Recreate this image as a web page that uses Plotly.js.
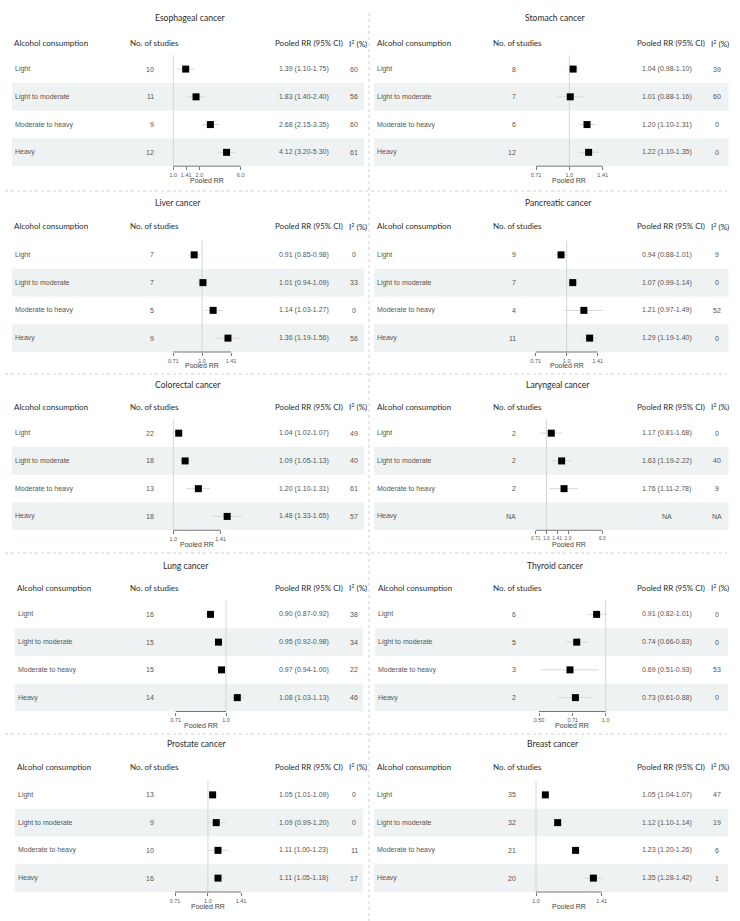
<!DOCTYPE html>
<html><head><meta charset="utf-8">
<script src="https://cdn.plot.ly/plotly-3.0.1.min.js"></script>
<style>html,body{margin:0;padding:0;background:#fff;}#chart{width:740px;height:921px;}</style>
</head><body><div id="chart"></div>
<script>
// ---------- data ----------
const cancers = ['Esophageal cancer','Stomach cancer','Liver cancer','Pancreatic cancer','Colorectal cancer',
  'Laryngeal cancer','Lung cancer','Thyroid cancer','Prostate cancer','Breast cancer'];
const levels = ['Light','Light to moderate','Moderate to heavy','Heavy'];
const nStudies = [[10,11,9,12],[8,7,6,12],[7,7,5,9],[9,7,4,11],[22,18,13,18],
  [2,2,2,null],[16,15,15,14],[6,5,3,2],[13,9,10,16],[35,32,21,20]];
const pooledRR = [[1.39,1.83,2.68,4.12],[1.04,1.01,1.20,1.22],[0.91,1.01,1.14,1.36],[0.94,1.07,1.21,1.29],
  [1.04,1.09,1.20,1.48],[1.17,1.63,1.76,null],[0.90,0.95,0.97,1.08],[0.91,0.74,0.69,0.73],
  [1.05,1.09,1.11,1.11],[1.05,1.12,1.23,1.35]];
const ciLow = [[1.10,1.40,2.15,3.20],[0.98,0.88,1.10,1.10],[0.85,0.94,1.03,1.19],[0.88,0.99,0.97,1.19],
  [1.02,1.05,1.10,1.33],[0.81,1.19,1.11,null],[0.87,0.92,0.94,1.03],[0.82,0.66,0.51,0.61],
  [1.01,0.99,1.00,1.05],[1.04,1.10,1.20,1.28]];
const ciHigh = [[1.75,2.40,3.35,5.30],[1.10,1.16,1.31,1.35],[0.98,1.09,1.27,1.56],[1.01,1.14,1.49,1.40],
  [1.07,1.13,1.31,1.65],[1.68,2.22,2.78,null],[0.92,0.98,1.00,1.13],[1.01,0.83,0.93,0.88],
  [1.09,1.20,1.23,1.18],[1.07,1.14,1.26,1.42]];
const iSquared = [[60,56,60,61],[39,60,0,0],[0,33,0,56],[9,0,52,0],[49,40,61,57],
  [0,40,9,null],[38,34,22,46],[0,0,53,0],[0,0,11,17],[47,19,6,1]];
const tickVals = [[1.0,1.41,2.0,6.0],[0.71,1.0,1.41],[0.71,1.0,1.41],[0.71,1.0,1.41],[1.0,1.41],
  [0.71,1.0,1.41,2.0,6.0],[0.71,1.0],[0.50,0.71,1.0],[0.71,1.0,1.41],[1.0,1.41]];
const tickLabels = [['1.0','1.41','2.0','6.0'],['0.71','1.0','1.41'],['0.71','1.0','1.41'],['0.71','1.0','1.41'],['1.0','1.41'],
  ['0.71','1.0','1.41','2.0','6.0'],['0.71','1.0'],['0.50','0.71','1.0'],['0.71','1.0','1.41'],['1.0','1.41']];
const headers = ['Alcohol consumption','No. of studies','Pooled RR (95% CI)','I<sup>2</sup> (%)'];
const axisTitle = 'Pooled RR';
const nullRR = 1.0;

// ---------- geometry (pixels) ----------
const W = 740, H = 921;
const px = x => x / W, py = y => 1 - y / H;
const ROW_H = 27.75;
const rowGeom = [
  {title:18,    header:43,    top:55.2},
  {title:203,   header:226,   top:241},
  {title:385,   header:406.7, top:419.3},
  {title:565.7, header:587.7, top:600.5},
  {title:744.3, header:766.7, top:781}
];
const titleX = [153,522.7,152.7,522.7,153.3,524.3,161,525,165,525];
const bandX = [[12,364],[374,728.5],[12,364],[374,728.5],[12,364],[374,728.5],[15,363],[375,728],[15,363],[374,728]];
const tickPx = [[173.3,240.7],[536,602.7],[173.3,231],[535.7,597.7],[173.3,220.5],[535.7,602.3],
  [175.7,226],[539,605.7],[175,241],[536,601.7]];
const tickFontSize = [5.5,5.5,5.5,5.5,5.5,4.9,5.5,5.5,5.5,5.5];
const forestDom = [[150,265],[515,630]];
const colX = [
  {label:12,  studies:128, studiesNum:155.5, rrHead:272.7, rrText:303.7, i2Head:346.7, i2Text:354},
  {label:375, studies:491, studiesNum:518,   rrHead:635,   rrText:666.7, i2Head:709,   i2Text:716.5}
];
const sepY = [191, 374, 553, 734];

const HEAD_FONT = {family:'Lato, "Open Sans", sans-serif', size:8, color:'#2b2b2b'};
const TITLE_FONT = {family:'Lato, "Open Sans", sans-serif', size:8.6, color:'#2b2b2b'};
const ROW_FONT = {family:'"Liberation Sans", Arial, sans-serif', size:7, color:'#555555'};
const BAND_COLOR = '#eef2f3';

const traces = [];
const annotations = [];
const shapes = [];
const layout = {
  width: W, height: H, margin:{l:0,r:0,t:0,b:0},
  paper_bgcolor:'#fff', plot_bgcolor:'rgba(0,0,0,0)',
  showlegend:false, hovermode:false
};

function fmt(v){ return v === null ? 'NA' : String(v); }
function fmtRR(p,i){
  if (pooledRR[p][i] === null) return 'NA';
  return pooledRR[p][i].toFixed(2) + ' (' + ciLow[p][i].toFixed(2) + '-' + ciHigh[p][i].toFixed(2) + ')';
}

cancers.forEach((name, p) => {
  const col = p % 2, row = Math.floor(p / 2);
  const g = rowGeom[row];
  const s = p === 0 ? '' : String(p + 1);
  const xa = 'x' + s, ya = 'y' + s;
  const top = g.top, bottom = g.top + 4 * ROW_H;
  const cx = colX[col];

  // axis ranges from tick pixel positions
  const tv = tickVals[p];
  const tmin = tv[0], tmax = tv[tv.length - 1];
  const [pMin, pMax] = tickPx[p];
  const [dL, dR] = forestDom[col];
  const k = (Math.log10(tmax) - Math.log10(tmin)) / (pMax - pMin);
  const r0 = Math.log10(tmin) - (pMin - dL) * k;
  const r1 = Math.log10(tmax) + (dR - pMax) * k;

  layout['xaxis' + s] = {
    type:'log', domain:[px(dL), px(dR)], range:[r0, r1], anchor: ya,
    tickmode:'array', tickvals: tv, ticktext: tickLabels[p], tickangle: 0,
    ticks:'outside', ticklen:3, tickwidth:1, tickcolor:'#777',
    tickfont:{family:'"Liberation Sans", Arial, sans-serif', size:tickFontSize[p], color:'#555'},
    showline:false, showgrid:false, zeroline:false, fixedrange:true
  };
  layout['yaxis' + s] = {
    domain:[py(bottom), py(top)], range:[3.5, -0.5], anchor: xa,
    showticklabels:false, ticks:'', showline:false, showgrid:false, zeroline:false, fixedrange:true
  };

  // shaded rows
  [1, 3].forEach(i => {
    shapes.push({type:'rect', xref:'paper', yref: ya, x0: px(bandX[p][0]), x1: px(bandX[p][1]),
      y0: i - 0.5, y1: i + 0.5, fillcolor: BAND_COLOR, line:{width:0}, layer:'below'});
  });
  // reference line at RR = 1
  shapes.push({type:'line', xref: xa, yref: ya + ' domain', x0: nullRR, x1: nullRR, y0: 0, y1: 1,
    line:{color:'#d2d6d8', width:1}, layer:'below'});
  // axis baseline between first and last tick
  shapes.push({type:'line', xref: xa, yref: ya + ' domain', x0: tmin, x1: tmax,
    y0: 0, y1: 0, line:{color:'#777', width:1}});

  // CI lines
  const cx_ = [], cy_ = [];
  levels.forEach((lv, i) => {
    if (ciLow[p][i] !== null) { cx_.push(ciLow[p][i], ciHigh[p][i], null); cy_.push(i, i, null); }
  });
  traces.push({type:'scatter', mode:'lines', x: cx_, y: cy_, xaxis: xa, yaxis: ya,
    line:{color:'#d8d8d8', width:1}, hoverinfo:'skip'});
  // point estimates
  traces.push({type:'scatter', mode:'markers', x: pooledRR[p], y: levels.map((lv, i) => i),
    xaxis: xa, yaxis: ya, cliponaxis:false,
    marker:{symbol:'square', size:7, color:'#000'}, hoverinfo:'skip'});

  // title
  annotations.push({xref:'paper', yref:'paper', x: px(titleX[p]), y: py(g.title), xanchor:'left', yanchor:'middle',
    text: name, showarrow:false, font: TITLE_FONT});
  // headers
  const hx = [cx.label + (bandX[p][0] - (col ? 374 : 12)), cx.studies, cx.rrHead, cx.i2Head];
  headers.forEach((h, j) => {
    annotations.push({xref:'paper', yref:'paper', x: px(hx[j]), y: py(g.header), xanchor:'left', yanchor:'middle',
      text: h, showarrow:false, font: HEAD_FONT});
  });
  // rows
  levels.forEach((lv, i) => {
    annotations.push({xref:'paper', yref: ya, x: px(bandX[p][0] + 0.5), y: i, xanchor:'left', yanchor:'middle',
      text: lv, showarrow:false, font: ROW_FONT});
    annotations.push({xref:'paper', yref: ya, x: px(cx.studiesNum), y: i, xanchor:'right', yanchor:'middle',
      text: fmt(nStudies[p][i]), showarrow:false, font: ROW_FONT});
    annotations.push({xref:'paper', yref: ya, x: px(cx.rrText), y: i, xanchor:'center', yanchor:'middle',
      text: fmtRR(p, i), showarrow:false, font: ROW_FONT});
    annotations.push({xref:'paper', yref: ya, x: px(cx.i2Text), y: i, xanchor:'center', yanchor:'middle',
      text: fmt(iSquared[p][i]), showarrow:false, font: ROW_FONT});
  });
  // axis title
  annotations.push({xref:'paper', yref:'paper', x: px((pMin + pMax) / 2), y: py(bottom + 14),
    xanchor:'center', yanchor:'middle', text: axisTitle, showarrow:false,
    font:{family:'"Liberation Sans", Arial, sans-serif', size:7, color:'#444'}});
});

// separators
sepY.forEach(y => {
  shapes.push({type:'line', xref:'paper', yref:'paper', x0: px(5), x1: px(727), y0: py(y), y1: py(y),
    line:{color:'#cfcfcf', width:1, dash:'dot'}});
});
shapes.push({type:'line', xref:'paper', yref:'paper', x0: px(369), x1: px(369), y0: py(13), y1: py(921),
  line:{color:'#cfcfcf', width:1, dash:'dot'}});

layout.annotations = annotations;
layout.shapes = shapes;

Plotly.newPlot('chart', traces, layout, {staticPlot:true, displayModeBar:false});
</script>
</body></html>
